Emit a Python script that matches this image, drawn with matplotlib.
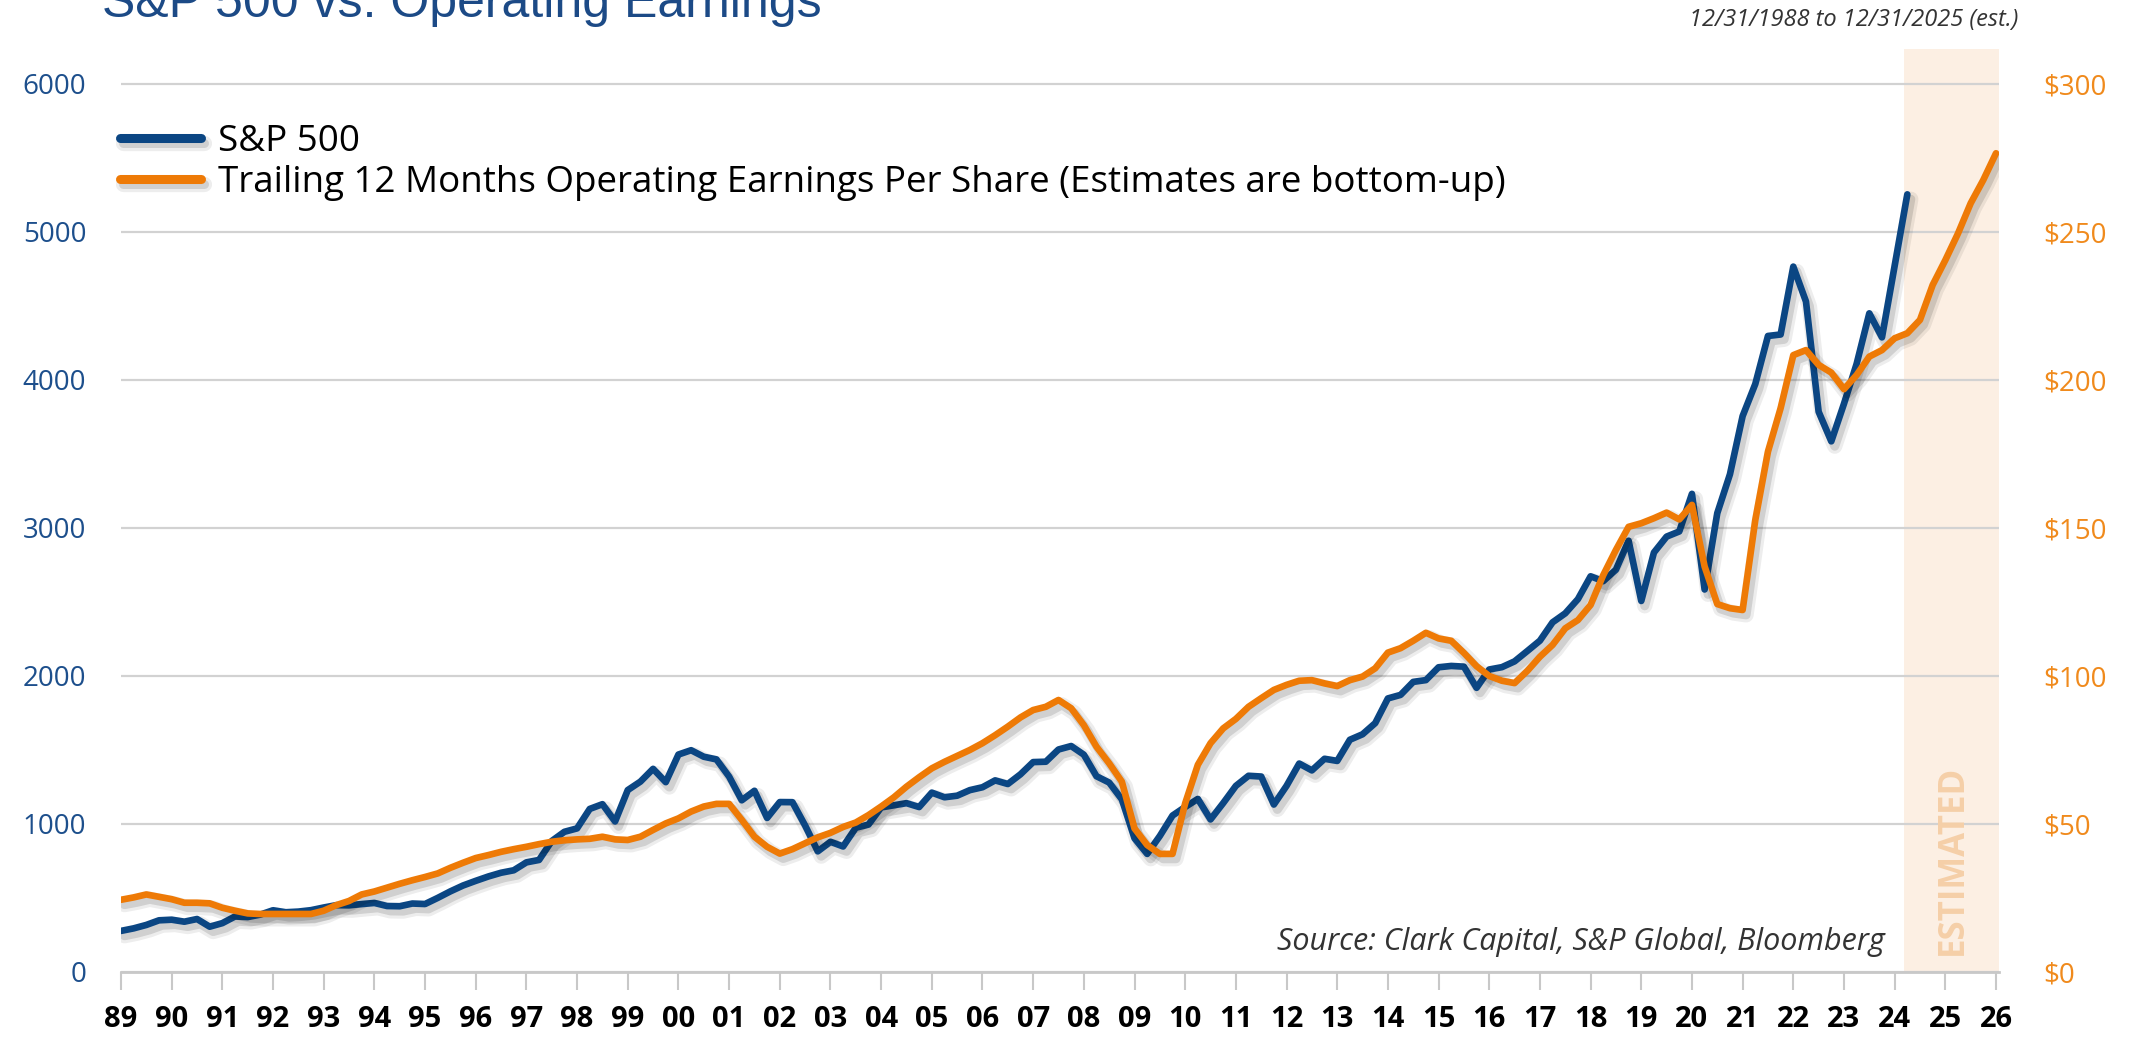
import matplotlib
matplotlib.use("Agg")
import matplotlib.pyplot as plt
import numpy as np
from matplotlib import patheffects as pe
from matplotlib.font_manager import FontProperties

# ---------------- data (quarter-end values, 12/31/1988 onward) ----------------
sp500 = [277.7,
         294.9, 318.0, 349.2, 353.4,
         339.9, 358.0, 306.1, 330.2,
         375.2, 371.2, 387.9, 417.1,
         403.7, 408.1, 417.8, 435.7,
         451.7, 450.5, 458.9, 466.5,
         445.8, 444.3, 462.7, 459.3,
         500.7, 544.8, 584.4, 615.9,
         645.5, 670.6, 687.3, 740.7,
         757.1, 885.1, 947.3, 970.4,
         1101.8, 1133.8, 1017.0, 1229.2,
         1286.4, 1372.7, 1282.7, 1469.3,
         1498.6, 1454.6, 1436.5, 1320.3,
         1160.3, 1224.4, 1040.9, 1148.1,
         1147.4, 989.8, 815.3, 879.8,
         848.2, 974.5, 996.0, 1111.9,
         1126.2, 1140.8, 1114.6, 1211.9,
         1180.6, 1191.3, 1228.8, 1248.3,
         1294.8, 1270.2, 1335.9, 1418.3,
         1420.9, 1503.4, 1526.8, 1468.4,
         1322.7, 1280.0, 1166.4, 903.3,
         797.9, 919.3, 1057.1, 1115.1,
         1169.4, 1030.7, 1141.2, 1257.6,
         1325.8, 1320.6, 1131.4, 1257.6,
         1408.5, 1362.2, 1440.7, 1426.2,
         1569.2, 1606.3, 1681.6, 1848.4,
         1872.3, 1960.2, 1972.3, 2058.9,
         2067.9, 2063.1, 1920.0, 2043.9,
         2059.7, 2098.9, 2168.3, 2238.8,
         2362.7, 2423.4, 2519.4, 2673.6,
         2640.9, 2718.4, 2914.0, 2506.9,
         2834.4, 2941.8, 2976.7, 3230.8,
         2584.6, 3100.3, 3363.0, 3756.1,
         3972.9, 4297.5, 4307.5, 4766.2,
         4530.4, 3785.4, 3585.6, 3839.5,
         4109.3, 4450.4, 4288.1, 4769.8,
         5254.4]

eps_ttm = [24.4,
           25.2, 26.2, 25.4, 24.6,
           23.4, 23.4, 23.2, 21.7,
           20.7, 19.8, 19.6, 19.6,
           19.6, 19.6, 19.6, 20.7,
           22.6, 24.0, 26.2, 27.2,
           28.5, 29.8, 31.0, 32.1,
           33.3, 35.2, 36.9, 38.5,
           39.5, 40.6, 41.5, 42.3,
           43.2, 44.0, 44.5, 44.8,
           45.0, 45.7, 44.8, 44.6,
           45.7, 48.0, 50.2, 51.9,
           54.2, 55.9, 56.8, 56.8,
           51.4, 45.7, 42.3, 40.0,
           41.5, 43.5, 45.5, 47.0,
           49.0, 50.5, 53.0, 55.9,
           59.0, 62.6, 65.8, 68.8,
           71.0, 73.0, 75.0, 77.3,
           80.0, 82.9, 86.0, 88.5,
           89.6, 91.9, 89.1, 83.4,
           76.1, 70.5, 64.3, 48.5,
           42.9, 39.9, 39.9, 57.0,
           70.0, 77.3, 82.3, 85.5,
           89.6, 92.5, 95.3, 97.0,
           98.4, 98.6, 97.5, 96.6,
           98.6, 99.8, 102.6, 107.9,
           109.4, 111.9, 114.6, 112.7,
           111.9, 107.8, 103.3, 100.0,
           98.4, 97.6, 101.7, 106.5,
           110.5, 116.1, 118.9, 124.0,
           134.1, 142.6, 150.4, 151.6,
           153.3, 155.2, 152.9, 157.8,
           137.0, 124.3, 122.9, 122.3,
           152.7, 175.8, 190.5, 208.4,
           210.1, 205.1, 202.5, 196.9,
           201.7, 207.9, 210.1, 214.1,
           215.8, 220.3, 232.1, 240.5,
           249.5, 259.7, 267.6, 276.6]

year_labels = ['89', '90', '91', '92', '93', '94', '95', '96', '97', '98', '99',
               '00', '01', '02', '03', '04', '05', '06', '07', '08', '09', '10',
               '11', '12', '13', '14', '15', '16', '17', '18', '19', '20', '21',
               '22', '23', '24', '25', '26']
left_ticks = [0, 1000, 2000, 3000, 4000, 5000, 6000]
right_ticks = [0, 50, 100, 150, 200, 250, 300]
right_labels = ['$0', '$50', '$100', '$150', '$200', '$250', '$300']

series_names = ['S&P 500',
                'Trailing 12 Months Operating Earnings Per Share (Estimates are bottom-up)']

# ---------------- styling ----------------
plt.rcParams['font.family'] = ['Open Sans', 'DejaVu Sans']
BLUE = '#0b4683'
ORANGE = '#ee7a06'
SHADE = '#fcefe3'

W, H = 2129, 1037
fig = plt.figure(figsize=(W / 100, H / 100), dpi=100)
L, R, T, B = 121, 1999, 49, 972
ax = fig.add_axes([L / W, 1 - B / H, (R - L) / W, (B - T) / H])

px_per_year = (1996 - 121) / 37.0
xmax = (R - L) / px_per_year
ymax = 6000 * (B - T) / (B - 84)

t_sp = np.arange(len(sp500)) / 4.0
t_eps = np.arange(len(eps_ttm)) / 4.0

ax.set_xlim(0, xmax)
ax.set_ylim(0, ymax)

ax.axvspan(35.18, xmax, color=SHADE, lw=0, zorder=0)
ax.set_axisbelow(True)
ax.yaxis.grid(True, color='#d2d2d2', lw=1.6, zorder=0.5)

for s in ['top', 'right', 'left']:
    ax.spines[s].set_visible(False)
ax.spines['bottom'].set_color('#c8c8c8')
ax.spines['bottom'].set_linewidth(2)

ax.set_yticks(left_ticks)
ax.set_yticklabels([str(v) for v in left_ticks])
ax.tick_params(axis='y', length=0, pad=25, labelsize=20, labelcolor='#1d4f8c')
ax.set_xticks(range(len(year_labels)))
ax.set_xticklabels(year_labels)
ax.tick_params(axis='x', length=13, width=1.5, color='#c8c8c8', pad=11,
               labelsize=21, labelcolor='black')
for lab in ax.get_xticklabels():
    lab.set_fontweight('bold')

ax2 = ax.twinx()
ax2.set_ylim(0, ymax / 20.0)
for s in ax2.spines.values():
    s.set_visible(False)
ax2.set_yticks(right_ticks)
ax2.set_yticklabels(right_labels)
ax2.tick_params(axis='y', length=0, pad=32, labelsize=20, labelcolor='#f08a1c')


def shadow():
    return [pe.SimpleLineShadow(offset=(2.5, -3.5), shadow_color='black', alpha=0.07, linewidth=11),
            pe.SimpleLineShadow(offset=(2.5, -3.5), shadow_color='black', alpha=0.12, linewidth=6.5),
            pe.Normal()]


l1, = ax.plot(t_sp, sp500, color=BLUE, lw=4.8, solid_joinstyle='round',
              solid_capstyle='round', path_effects=shadow(), zorder=3)
l2, = ax2.plot(t_eps, eps_ttm, color=ORANGE, lw=4.8, solid_joinstyle='round',
               solid_capstyle='round', path_effects=shadow(), zorder=3)

leg = ax2.legend([l1, l2], series_names, loc='center left',
                 bbox_to_anchor=(120 / W, 1 - 162.5 / H), bbox_transform=fig.transFigure,
                 frameon=False, prop=FontProperties(family='Open Sans', size=26.5),
                 handlelength=2.2, handletextpad=0.45, labelspacing=0.12,
                 borderpad=0, borderaxespad=0)
for h in leg.get_lines():
    h.set_linewidth(6.5)

ax.text(36.15, 757, 'ESTIMATED', rotation=90, ha='center', va='center',
        fontsize=25, color='#f5cfa8', fontweight='bold', zorder=2)
ax.text(34.81, 203, 'Source: Clark Capital, S&P Global, Bloomberg', ha='right',
        va='center', style='italic', fontsize=22, color='#333333', zorder=5)

fig.text(102 / W, 1 - 17 / H, 'S&P 500 vs. Operating Earnings', fontsize=36,
         color='#1c4a86', family='Liberation Sans', va='baseline')
fig.text(2018 / W, 1 - 20 / H, '12/31/1988 to 12/31/2025 (est.)', ha='right',
         va='center', style='italic', fontsize=17, color='#333333')

fig.savefig('out.png', dpi=100)
